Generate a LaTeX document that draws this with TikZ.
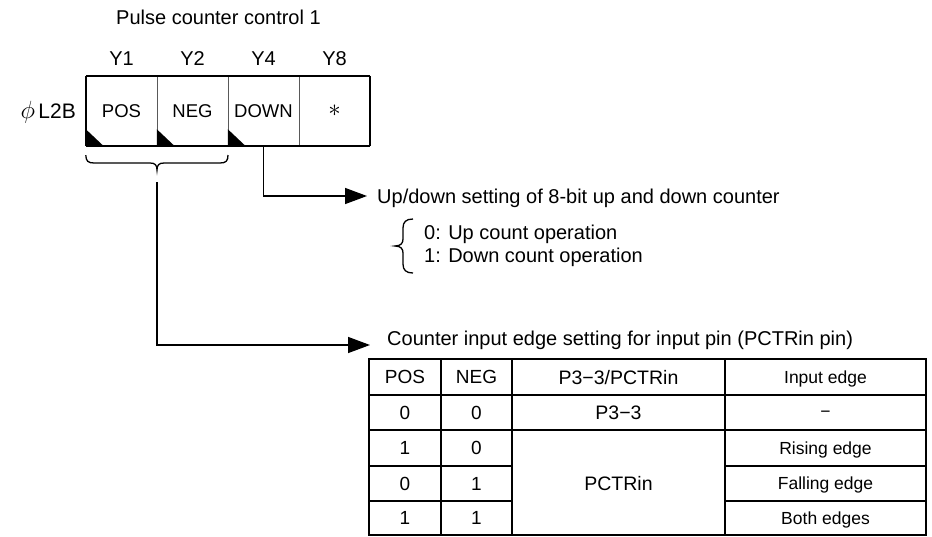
\documentclass[tikz,border=0pt]{standalone}
\usepackage{fontspec}
\setmainfont{Liberation Sans}
\usetikzlibrary{arrows.meta}
\newcommand{\fs}[1]{\fontsize{#1}{#1}\selectfont}
\begin{document}
\begin{tikzpicture}[x=1pt,y=-1pt,
  txt/.style={inner sep=0pt,font=\fs{20},text height=14.3pt,text depth=0pt},
  ylab/.style={inner sep=0pt,font=\fs{20},text height=14.3pt,text depth=0pt},
  regcell/.style={inner sep=0pt,minimum width=71pt,minimum height=70pt,font=\fs{18.5},text height=13.2pt,text depth=0pt},
  tcell/.style={inner sep=0pt,font=\fs{19},text height=13.6pt,text depth=0pt},
  bcell/.style={inner sep=0pt,font=\fs{19.5},text height=14pt,text depth=0pt},
  rcell/.style={inner sep=0pt,font=\fs{17.5},text height=12.5pt,text depth=0pt},
  arr/.style={line width=1.5pt,-{Triangle[length=22pt,width=16pt]}},
  tline/.style={line width=1.6pt},
  touter/.style={line width=2pt}]
\useasboundingbox (0,0) rectangle (932,536);

% title
\node[txt,anchor=west] (title) at (116,17) {Pulse counter control 1};

% bit labels
\node[ylab] (y1) at (121.5,58) {Y1};
\node[ylab] (y2) at (192.5,58) {Y2};
\node[ylab] (y4) at (263.5,58) {Y4};
\node[ylab] (y8) at (334.5,58) {Y8};

% register name
\node[txt,anchor=east,font=\fs{21},text height=15pt] (reg) at (76,111) {{\fs{25}$\phi$}\,L2B};

% register cells
\node[regcell] (pos) at (121.5,111) {POS};
\node[regcell] (neg) at (192.5,111) {NEG};
\node[regcell] (down) at (263.5,111) {DOWN};
\node[regcell,font=\fs{26},text height=10pt] (star) at (334.5,111) {$\ast$};
\draw[line width=1pt,gray!70!black] (pos.north east) -- (pos.south east)
  (neg.north east) -- (neg.south east) (down.north east) -- (down.south east);
\draw[line width=1.5pt] (pos.north west) -- (pos.south west) (star.north east) -- (star.south east);
\draw[line width=2pt] (pos.north west) -- (star.north east) (pos.south west) -- (star.south east);
\foreach \c in {pos,neg,down}
  \fill (\c.south west) -- ++(18,0) -- ++(-18,-17) -- cycle;

% brace under POS/NEG
\coordinate (btip) at (157,170);
\coordinate (bstart) at (157,182);
\draw[line width=1.3pt] (pos.south west) ++(0,9) .. controls (86,161) and (88,163) .. (94,163) -- (150,163)
  .. controls (155,163) and (157,165) .. (btip)
  .. controls (157,165) and (159,163) .. (164,163) -- (220,163)
  .. controls (226,163) and (228,161) .. (228,155);

% DOWN connector
\coordinate (a1) at (367,196);
\draw[arr] (down.south) |- (a1);
\node[txt,anchor=west] (updown) at (377,196) {Up/down setting of 8-bit up and down counter};

% curly brace 2
\draw[line width=1.3pt] (413,219) .. controls (406,219) and (403,222) .. (403,228) -- (403,239)
  .. controls (403,243) and (401,246) .. (395,246)
  .. controls (401,246) and (403,249) .. (403,253) -- (403,264)
  .. controls (403,270) and (406,273) .. (413,273);
\node[txt,anchor=west] (op0) at (424,232) {0: Up count operation};
\node[txt,anchor=west] (op1) at (424,255) {1: Down count operation};

% POS/NEG connector
\coordinate (a2) at (370,345);
\draw[arr] (bstart) |- (a2);
\node[txt,anchor=west] (ctitle) at (387,338) {Counter input edge setting for input pin (PCTRin pin)};

% table lines
\draw[tline] (369,395) -- (926,395) (369,430) -- (926,430)
  (369,466) -- (512,466) (725,466) -- (926,466)
  (369,501) -- (512,501) (725,501) -- (926,501)
  (441,359) -- (441,535) (512,359) -- (512,535) (725,359) -- (725,535);
\draw[touter] (369,359) rectangle (926,535);

% table texts
\node[tcell] (hpos) at (405,377) {POS};
\node[tcell] (hneg) at (476.5,377) {NEG};
\node[bcell] (hpin) at (618.5,377) {P3−3/PCTRin};
\node[rcell] (hedge) at (825.5,377) {Input edge};
\node[tcell] (r1a) at (405,412.5) {0};
\node[tcell] (r1b) at (476.5,412.5) {0};
\node[bcell] (r1c) at (618.5,412.5) {P3−3};
\node[rcell,text height=10.5pt] (r1d) at (825.5,412.5) {−};
\node[tcell] (r2a) at (405,448) {1};
\node[tcell] (r2b) at (476.5,448) {0};
\node[rcell] (r2d) at (825.5,448) {Rising edge};
\node[tcell] (r3a) at (405,483.5) {0};
\node[tcell] (r3b) at (476.5,483.5) {1};
\node[bcell] (r3c) at (618.5,483.5) {PCTRin};
\node[rcell] (r3d) at (825.5,483.5) {Falling edge};
\node[tcell] (r4a) at (405,518) {1};
\node[tcell] (r4b) at (476.5,518) {1};
\node[rcell] (r4d) at (825.5,518) {Both edges};
\end{tikzpicture}
\end{document}
